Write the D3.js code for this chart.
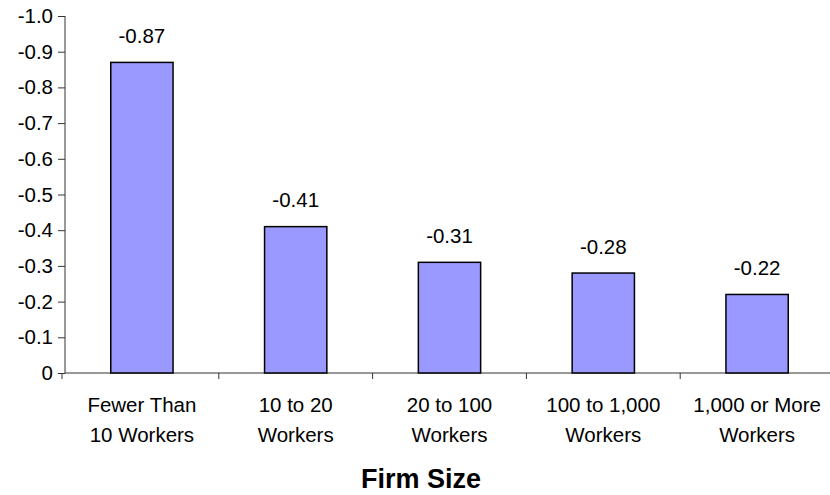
<!DOCTYPE html>
<html>
<head>
<meta charset="utf-8">
<script src="https://cdn.jsdelivr.net/npm/d3@7"></script>
<style>
    body { margin: 0; background: #fff; }
    svg { display: block; font-family: Arial, "Liberation Sans", sans-serif; }
</style>
</head>
<body>
<svg id="chart" width="830" height="495"></svg>
<script>
// data
const categories = [
    ["Fewer Than", "10 Workers"],
    ["10 to 20", "Workers"],
    ["20 to 100", "Workers"],
    ["100 to 1,000", "Workers"],
    ["1,000 or More", "Workers"]
];
const values = [-0.87, -0.41, -0.31, -0.28, -0.22];
const yTicks = [0, -0.1, -0.2, -0.3, -0.4, -0.5, -0.6, -0.7, -0.8, -0.9, -1.0];
const xTitle = "Firm Size";

const svg = d3.select("#chart");

const plotLeft = 65, plotRight = 834, plotTop = 16, plotBottom = 373;
const fontSize = 20.5;

const x = d3.scaleBand()
    .domain(d3.range(values.length))
    .range([plotLeft, plotRight])
    .padding(0);

// axis runs upward from 0 to -1.0
const y = d3.scaleLinear()
    .domain([0, -1])
    .range([plotBottom, plotTop]);

const axisColor = "#333";

// y axis
const yAxis = svg.append("g")
    .attr("transform", `translate(${plotLeft},0)`)
    .call(d3.axisLeft(y)
        .tickValues(yTicks)
        .tickSize(7)
        .tickPadding(5)
        .tickFormat(d => d === 0 ? "0" : d.toFixed(1)));
yAxis.select(".domain").attr("stroke", axisColor).attr("stroke-width", 1)
    .attr("d", `M0,${plotTop}H0V${plotBottom}`);
yAxis.selectAll(".tick line").attr("stroke", axisColor);
yAxis.selectAll(".tick text")
    .attr("font-size", fontSize)
    .attr("font-family", "Arial, 'Liberation Sans', sans-serif")
    .attr("fill", "#000");

// x axis line with ticks between categories
const boundaries = d3.range(values.length + 1).map(i => plotLeft + i * x.step());
svg.append("line")
    .attr("x1", plotLeft).attr("x2", plotRight)
    .attr("y1", plotBottom).attr("y2", plotBottom)
    .attr("stroke", axisColor).attr("stroke-width", 1);
svg.selectAll(".xtick")
    .data(boundaries)
    .enter()
    .append("line")
    .attr("x1", d => d === plotLeft ? d - 3 : d)
    .attr("x2", d => d === plotLeft ? d - 3 : d)
    .attr("y1", plotBottom)
    .attr("y2", plotBottom + 6)
    .attr("stroke", axisColor);

// bars
const barWidth = x.bandwidth() * 0.405;
svg.selectAll(".bar")
    .data(values)
    .enter()
    .append("rect")
    .attr("x", (d, i) => x(i) + (x.bandwidth() - barWidth) / 2)
    .attr("y", d => y(d))
    .attr("width", barWidth)
    .attr("height", d => y(0) - y(d))
    .attr("fill", "#9999ff")
    .attr("stroke", "#000")
    .attr("stroke-width", 1.5);

// value labels
svg.selectAll(".val")
    .data(values)
    .enter()
    .append("text")
    .attr("x", (d, i) => x(i) + x.bandwidth() / 2)
    .attr("y", d => y(d) - 19.5)
    .attr("text-anchor", "middle")
    .attr("font-size", fontSize)
    .text(d => d.toFixed(2));

// category labels (two lines)
categories.forEach((lines, i) => {
    lines.forEach((line, j) => {
        svg.append("text")
            .attr("x", x(i) + x.bandwidth() / 2)
            .attr("y", 412 + j * 30)
            .attr("text-anchor", "middle")
            .attr("font-size", fontSize)
            .text(line);
    });
});

// axis title
svg.append("text")
    .attr("x", 421)
    .attr("y", 488)
    .attr("text-anchor", "middle")
    .attr("font-size", 27)
    .attr("font-weight", "bold")
    .text(xTitle);
</script>
</body>
</html>
